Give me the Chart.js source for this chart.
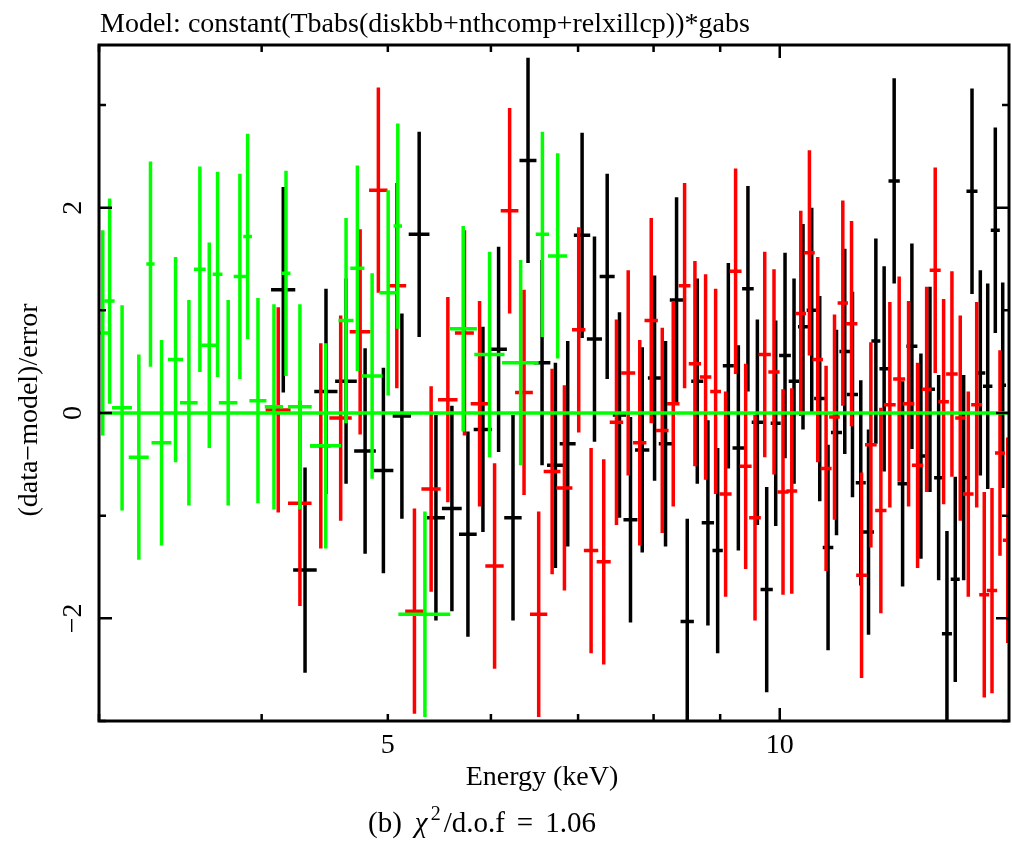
<!DOCTYPE html>
<html>
<head>
<meta charset="utf-8">
<script src="https://cdn.jsdelivr.net/npm/chart.js@4.4.1/dist/chart.umd.min.js"></script>
<style>
  html, body { margin: 0; padding: 0; background: #fff; }
  #wrap { width: 1012px; height: 841px; }
</style>
</head>
<body>
<div id="wrap"><canvas id="resid" width="1012" height="841"></canvas></div>
<script>
// residuals, (data-model)/error, one bin per entry: centre energy (keV), half width (keV), residual
const greenEnergy = [3.02, 3.057, 3.125, 3.219, 3.286, 3.351, 3.435, 3.517, 3.586, 3.646, 3.700, 3.770, 3.849, 3.902, 3.974,
  4.088, 4.176, 4.280, 4.480, 4.644, 4.738, 4.863, 5.003, 5.089, 5.339, 5.713, 5.986, 6.324, 6.572, 6.752];
const greenHalfWidth = [0.03, 0.027, 0.055, 0.057, 0.024, 0.059, 0.046, 0.055, 0.037, 0.048, 0.032, 0.062, 0.042, 0.030, 0.060,
  0.066, 0.033, 0.090, 0.123, 0.062, 0.059, 0.090, 0.077, 0.038, 0.245, 0.14, 0.16, 0.205, 0.077, 0.115];
const greenResid = [0.78, 1.09, 0.05, -0.43, 1.45, -0.29, 0.52, 0.10, 1.40, 0.66, 1.35, 0.10, 1.33, 1.72, 0.12,
  0.06, 1.36, 0.06, -0.32, 0.90, 1.41, 0.36, 1.17, 1.82, -1.96, 0.82, 0.57, 0.49, 1.74, 1.53];

const blackEnergy = [4.156, 4.319, 4.482, 4.644, 4.803, 4.961, 5.126, 5.285, 5.444, 5.600, 5.761, 5.916, 6.082, 6.239, 6.407, 6.568,
  6.725, 6.873, 7.050, 7.206, 7.370, 7.532, 7.680, 7.841, 8.014, 8.171, 8.332, 8.491, 8.643, 8.807, 8.960, 9.131,
  9.294, 9.453, 9.612, 9.772, 9.929, 10.094, 10.256, 10.42, 10.582, 10.733, 10.892, 11.056, 11.219, 11.373, 11.541, 11.70,
  11.853, 12.028, 12.243, 12.427, 12.633, 12.836, 13.043, 13.245, 13.441, 13.64, 13.844, 14.05, 14.258, 14.446, 14.641, 14.834];
const blackHalfWidth = [0.089, 0.090, 0.092, 0.089, 0.092, 0.088, 0.083, 0.097, 0.087, 0.098, 0.090, 0.096, 0.090, 0.096, 0.096, 0.097,
  0.099, 0.097, 0.102, 0.096, 0.098, 0.089, 0.095, 0.099, 0.094, 0.097, 0.099, 0.100, 0.092, 0.096, 0.082, 0.089,
  0.095, 0.097, 0.096, 0.106, 0.088, 0.105, 0.096, 0.092, 0.094, 0.105, 0.102, 0.108, 0.106, 0.111, 0.102, 0.114,
  0.094, 0.100, 0.122, 0.110, 0.123, 0.106, 0.116, 0.106, 0.119, 0.109, 0.103, 0.137, 0.126, 0.120, 0.117, 0.088];
const blackResid = [1.20, -1.53, 0.21, 0.31, -0.37, -0.56, -0.03, 1.74, -1.02, -0.93, -1.18, -0.16, 0.62, -1.02, 2.46, 0.49,
  -0.51, -0.30, 1.73, 0.72, 1.33, -0.02, -1.04, -0.36, 0.34, -0.30, 1.10, -2.03, 0.31, -1.07, -1.34, 0.46,
  -0.34, 1.21, -0.09, -1.72, -0.10, 0.56, 0.31, 0.84, 1.00, 0.14, -1.31, -0.19, 0.60, 0.18, -0.68, -1.16,
  0.70, 0.43, 2.26, -0.69, 0.65, -0.42, 0.23, -0.63, -2.15, -1.62, -0.63, 2.16, 0.39, 0.26, 1.78, 0.27];

const redEnergy = [4.119, 4.280, 4.441, 4.60, 4.761, 4.917, 5.080, 5.241, 5.398, 5.560, 5.726, 5.881, 6.039, 6.202, 6.362, 6.529,
  6.686, 6.833, 7.008, 7.163, 7.325, 7.492, 7.649, 7.807, 7.967, 8.124, 8.283, 8.451, 8.607, 8.771, 8.928, 9.087,
  9.249, 9.415, 9.572, 9.738, 9.899, 10.058, 10.215, 10.379, 10.539, 10.695, 10.854, 11.017, 11.18, 11.354, 11.557, 11.749,
  11.958, 12.15, 12.352, 12.559, 12.761, 12.967, 13.165, 13.362, 13.56, 13.761, 13.958, 14.167, 14.358, 14.556, 14.763, 14.967];
const redHalfWidth = [0.091, 0.089, 0.083, 0.091, 0.087, 0.080, 0.085, 0.085, 0.092, 0.096, 0.096, 0.092, 0.098, 0.097, 0.100, 0.100,
  0.099, 0.097, 0.083, 0.091, 0.091, 0.089, 0.095, 0.092, 0.094, 0.091, 0.092, 0.088, 0.094, 0.089, 0.085, 0.097,
  0.098, 0.100, 0.099, 0.106, 0.099, 0.098, 0.099, 0.098, 0.100, 0.100, 0.106, 0.104, 0.102, 0.118, 0.110, 0.122,
  0.120, 0.126, 0.131, 0.129, 0.128, 0.110, 0.128, 0.125, 0.140, 0.122, 0.131, 0.138, 0.127, 0.133, 0.130, 0.130];
const redResid = [0.03, -0.88, -0.32, -0.05, 0.79, 2.17, 1.24, -1.93, -0.74, 0.13, 0.78, 0.09, -1.49, 1.97, 0.20, -1.96,
  -0.57, -0.73, 0.81, -1.34, -1.45, -0.09, 0.39, -0.29, 0.90, -0.17, 0.09, 1.24, 0.48, 0.35, 0.21, -0.79,
  1.38, -0.52, -1.02, 0.57, 0.40, -0.77, -0.76, 0.97, 1.56, 0.52, -0.54, -0.04, 1.07, 0.87, -1.58, -0.31,
  -0.95, 0.08, 0.33, 0.09, -0.51, 0.23, 1.39, 0.11, 0.38, -0.05, -0.79, 0.08, -1.77, -1.73, -0.39, -1.24];

const errSigma = 1; // residual error bars are always +/- 1 sigma
const modelLine = [0, 0]; // model level at xRange ends

const xRange = [3, 15];
const yRange = [-3, 3.584];
const xLabelTicks = [5, 10];
const xLabelText = ['5', '10'];
const xMinorTicks = [3, 4, 6, 7, 8, 9];
const yMajorTicks = [-2, 0, 2];
const yMajorText = ['\u22122', '0', '2'];
const yMinorTicks = [-3, -1, 1, 3];

const titleText = 'Model: constant(Tbabs(diskbb+nthcomp+relxillcp))*gabs';
const xTitle = 'Energy (keV)';
const yTitle = '(data\u2212model)/error';

const serif = "'Liberation Serif', 'Times New Roman', serif";

function errorBarPoints(energy, halfWidth, resid) {
    const pts = [];
    for (let i = 0; i < energy.length; i++) {
        const e = energy[i], y = resid[i];
        pts.push({x: e - halfWidth[i], y: y}, {x: e + halfWidth[i], y: y}, {x: e, y: null});
        pts.push({x: e, y: y - errSigma}, {x: e, y: y + errSigma}, {x: e, y: null});
    }
    return pts;
}

function series(data, color, order) {
    return {
        data: data,
        borderColor: color,
        borderWidth: 3.5,
        borderCapStyle: 'butt',
        pointRadius: 0,
        spanGaps: false,
        tension: 0,
        clip: 0,
        order: order
    };
}

const framePlugin = {
    id: 'frame',
    afterDraw(chart) {
        const ctx = chart.ctx;
        const xs = chart.scales.x, ys = chart.scales.y;
        const a = chart.chartArea;
        ctx.save();
        ctx.strokeStyle = '#000';
        ctx.lineWidth = 3;
        ctx.strokeRect(a.left, a.top, a.right - a.left, a.bottom - a.top);

        ctx.lineWidth = 2.5;
        ctx.beginPath();
        const xTick = (v, len) => {
            const px = xs.getPixelForValue(v);
            ctx.moveTo(px, a.bottom); ctx.lineTo(px, a.bottom - len);
            ctx.moveTo(px, a.top); ctx.lineTo(px, a.top + len);
        };
        const yTick = (v, len) => {
            const py = ys.getPixelForValue(v);
            ctx.moveTo(a.left, py); ctx.lineTo(a.left + len, py);
            ctx.moveTo(a.right, py); ctx.lineTo(a.right - len, py);
        };
        xMinorTicks.forEach(v => xTick(v, 7));
        xTick(5, 7);
        xTick(10, 13);
        yMinorTicks.forEach(v => yTick(v, 7));
        yMajorTicks.forEach(v => yTick(v, 13));
        ctx.stroke();

        ctx.fillStyle = '#000';
        ctx.font = '28px ' + serif;
        ctx.textAlign = 'left';
        ctx.textBaseline = 'alphabetic';
        ctx.fillText(titleText, 100, 32);

        ctx.textAlign = 'center';
        xLabelTicks.forEach((v, i) => ctx.fillText(xLabelText[i], xs.getPixelForValue(v), 753));
        ctx.fillText(xTitle, 542, 785);

        yMajorTicks.forEach((v, i) => {
            ctx.save();
            ctx.translate(81, ys.getPixelForValue(v));
            ctx.rotate(-Math.PI / 2);
            ctx.fillText(yMajorText[i], 0, 0);
            ctx.restore();
        });
        ctx.save();
        ctx.translate(37, 410);
        ctx.rotate(-Math.PI / 2);
        ctx.fillText(yTitle, 0, 0);
        ctx.restore();

        // caption: (b) chi^2/d.o.f = 1.06
        const parts = [
            {t: '(b)', f: '29px ' + serif, dy: 0, gap: 13},
            {t: '\u03c7', f: 'italic 29px ' + serif, dy: 0, gap: 3},
            {t: '2', f: '20px ' + serif, dy: -12, gap: 3},
            {t: '/d.o.f', f: '29px ' + serif, dy: 0, gap: 12},
            {t: '=', f: '29px ' + serif, dy: 0, gap: 12},
            {t: '1.06', f: '29px ' + serif, dy: 0, gap: 0}
        ];
        let w = 0;
        parts.forEach(p => { ctx.font = p.f; p.w = ctx.measureText(p.t).width; w += p.w + p.gap; });
        let x = 482 - w / 2;
        ctx.textAlign = 'left';
        parts.forEach(p => { ctx.font = p.f; ctx.fillText(p.t, x, 832 + p.dy); x += p.w + p.gap; });
        ctx.restore();
    }
};

new Chart(document.getElementById('resid'), {
    type: 'line',
    data: {
        datasets: [
            series(xRange.map((e, i) => ({x: e, y: modelLine[i]})), '#00ff00', 0),
            series(errorBarPoints(greenEnergy, greenHalfWidth, greenResid), '#00ff00', 1),
            series(errorBarPoints(redEnergy, redHalfWidth, redResid), '#ff0000', 2),
            series(errorBarPoints(blackEnergy, blackHalfWidth, blackResid), '#000000', 3)
        ]
    },
    options: {
        responsive: false,
        animation: false,
        devicePixelRatio: 1,
        layout: { padding: { left: 99, right: 3, top: 45, bottom: 120 } },
        plugins: { legend: { display: false }, tooltip: { enabled: false } },
        scales: {
            x: { type: 'logarithmic', min: xRange[0], max: xRange[1], display: false },
            y: { type: 'linear', min: yRange[0], max: yRange[1], display: false }
        }
    },
    plugins: [framePlugin]
});
</script>
</body>
</html>
